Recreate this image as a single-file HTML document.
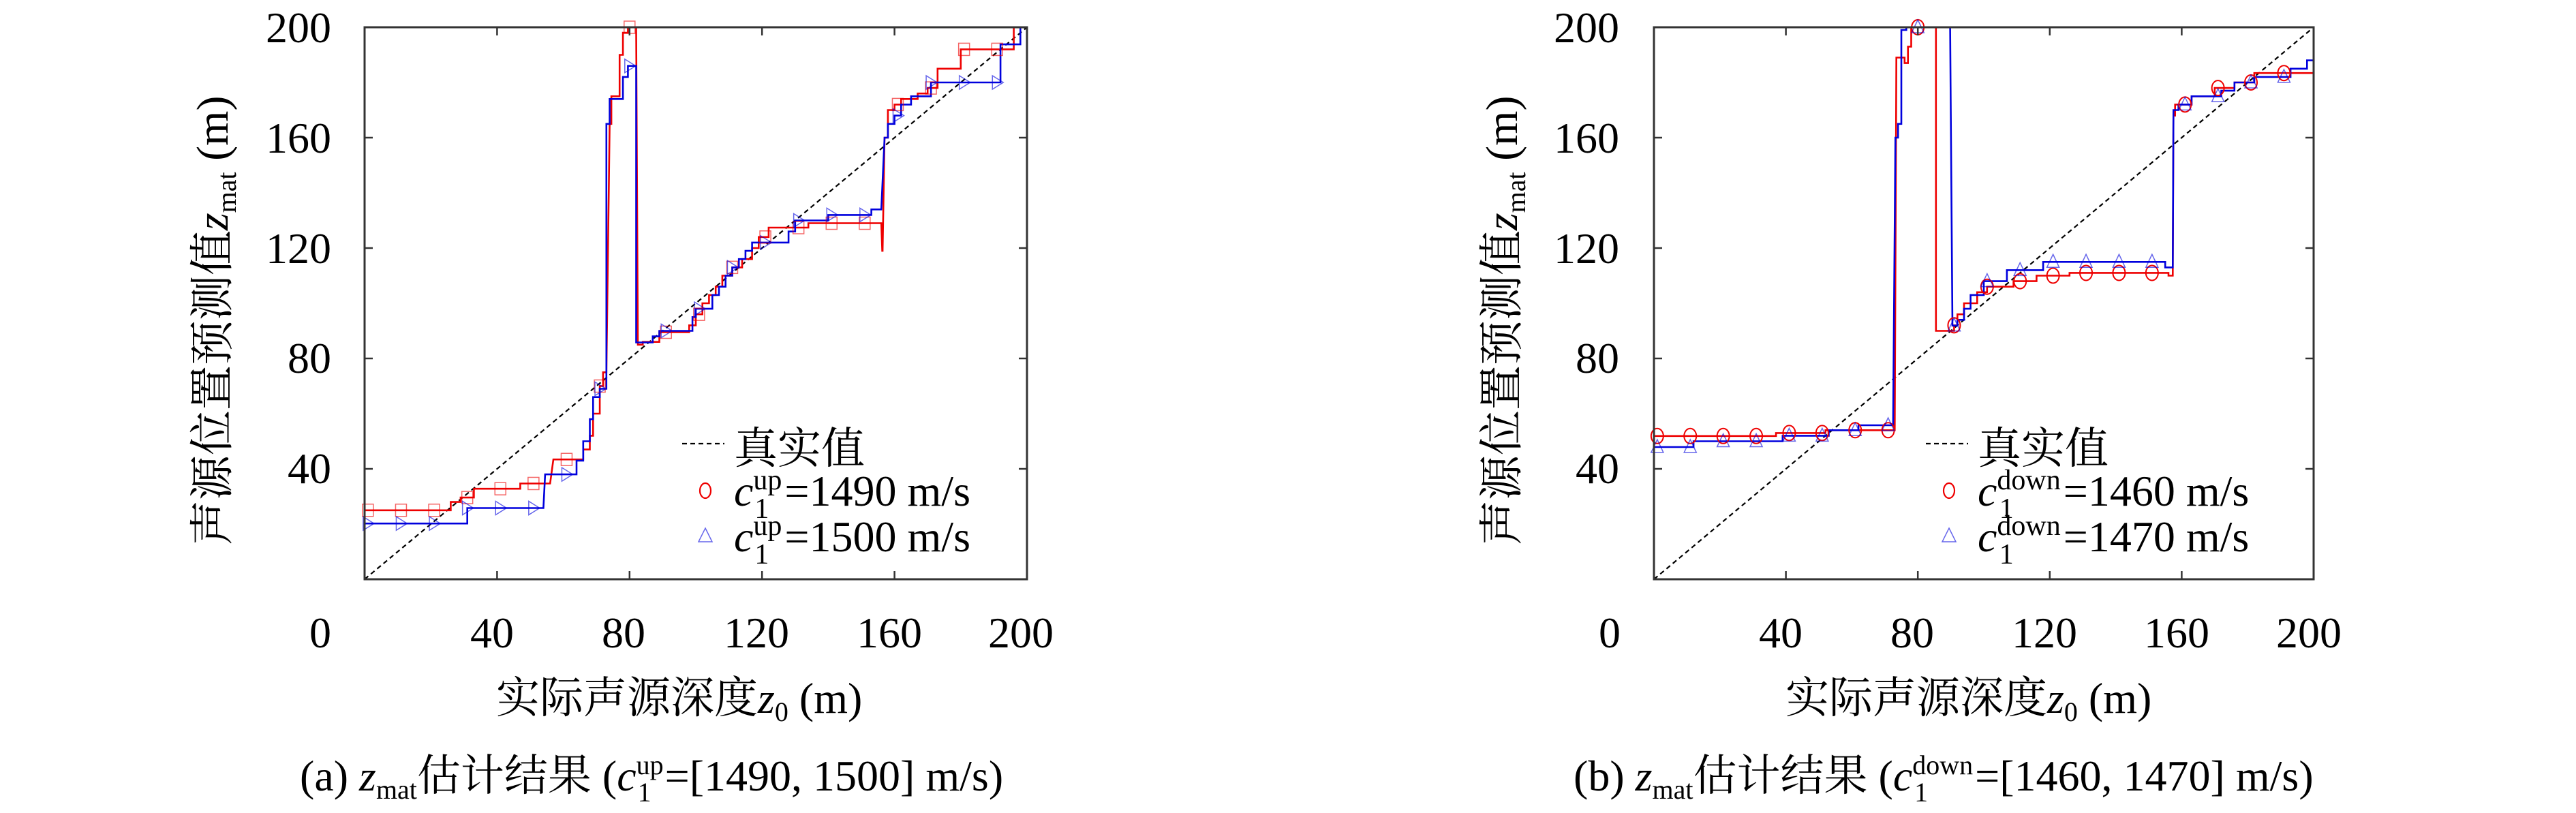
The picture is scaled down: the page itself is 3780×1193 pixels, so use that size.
<!DOCTYPE html>
<html><head><meta charset="utf-8">
<style>
html,body{margin:0;padding:0;background:#fff;}
svg{display:block;}
</style></head>
<body>
<svg id="s" width="3780" height="1193" viewBox="0 0 3780 1193" xmlns="http://www.w3.org/2000/svg" font-family="'Liberation Serif','Noto Serif CJK SC',serif">
<g id="A"></g>
<g id="B"></g>
<!-- Plot A texts -->
<g font-size="64" font-family="'Liberation Serif','Noto Serif CJK SC',serif" fill="#000">
<text x="486" y="62" text-anchor="end">200</text>
<text x="486" y="224" text-anchor="end">160</text>
<text x="486" y="386" text-anchor="end">120</text>
<text x="486" y="547" text-anchor="end">80</text>
<text x="486" y="709" text-anchor="end">40</text>
<text x="470" y="950" text-anchor="middle">0</text>
<text x="722" y="950" text-anchor="middle">40</text>
<text x="915" y="950" text-anchor="middle">80</text>
<text x="1110" y="950" text-anchor="middle">120</text>
<text x="1305" y="950" text-anchor="middle">160</text>
<text x="1498" y="950" text-anchor="middle">200</text>
<text x="728" y="1046">实际声源深度<tspan font-style="italic">z</tspan><tspan font-size="40" dy="12">0</tspan><tspan dy="-12"> (m)</tspan></text>
<text transform="translate(334,800) rotate(-90)" font-size="66">声源位置预测值<tspan font-style="italic">z</tspan><tspan font-size="40" dy="12">mat</tspan><tspan dy="-12">  (m)</tspan></text>
<text x="440" y="1160">(a) <tspan font-style="italic">z</tspan><tspan font-size="40" dy="12">mat</tspan><tspan dy="-12">估计结果 (</tspan><tspan font-style="italic">c</tspan><tspan font-size="40" dy="-24">up</tspan><tspan font-size="40" dx="-38" dy="40">1</tspan><tspan dx="20" dy="-16">=[1490, 1500] m/s)</tspan></text>
<text x="1077" y="680">真实值</text>
<text x="1077" y="742"><tspan font-style="italic">c</tspan><tspan font-size="42" dy="-24">up</tspan><tspan font-size="42" dx="-40" dy="42">1</tspan><tspan dx="23" dy="-18">=1490 m/s</tspan></text>
<text x="1077" y="809"><tspan font-style="italic">c</tspan><tspan font-size="42" dy="-24">up</tspan><tspan font-size="42" dx="-40" dy="42">1</tspan><tspan dx="23" dy="-18">=1500 m/s</tspan></text>
</g>
<!-- Plot B texts -->
<g font-size="64" font-family="'Liberation Serif','Noto Serif CJK SC',serif" fill="#000">
<text x="2376" y="62" text-anchor="end">200</text>
<text x="2376" y="224" text-anchor="end">160</text>
<text x="2376" y="386" text-anchor="end">120</text>
<text x="2376" y="547" text-anchor="end">80</text>
<text x="2376" y="709" text-anchor="end">40</text>
<text x="2362" y="950" text-anchor="middle">0</text>
<text x="2613" y="950" text-anchor="middle">40</text>
<text x="2806" y="950" text-anchor="middle">80</text>
<text x="3000" y="950" text-anchor="middle">120</text>
<text x="3194" y="950" text-anchor="middle">160</text>
<text x="3388" y="950" text-anchor="middle">200</text>
<text x="2620" y="1046">实际声源深度<tspan font-style="italic">z</tspan><tspan font-size="40" dy="12">0</tspan><tspan dy="-12"> (m)</tspan></text>
<text transform="translate(2226,800) rotate(-90)" font-size="66">声源位置预测值<tspan font-style="italic">z</tspan><tspan font-size="40" dy="12">mat</tspan><tspan dy="-12">  (m)</tspan></text>
<text x="2309" y="1160">(b) <tspan font-style="italic">z</tspan><tspan font-size="40" dy="12">mat</tspan><tspan dy="-12">估计结果 (</tspan><tspan font-style="italic">c</tspan><tspan font-size="40" dy="-24">down</tspan><tspan font-size="40" dx="-86" dy="40">1</tspan><tspan dx="69" dy="-16">=[1460, 1470] m/s)</tspan></text>
<text x="2902" y="680">真实值</text>
<text x="2902" y="742"><tspan font-style="italic">c</tspan><tspan font-size="42" dy="-24">down</tspan><tspan font-size="42" dx="-90" dy="42">1</tspan><tspan dx="73" dy="-18">=1460 m/s</tspan></text>
<text x="2902" y="809"><tspan font-style="italic">c</tspan><tspan font-size="42" dy="-24">down</tspan><tspan font-size="42" dx="-90" dy="42">1</tspan><tspan dx="73" dy="-18">=1470 m/s</tspan></text>
</g>
</svg>
<script>
const NS="http://www.w3.org/2000/svg";
function el(p,t,a){const e=document.createElementNS(NS,t);for(const k in a)e.setAttribute(k,a[k]);p.appendChild(e);return e;}
function plot(g,x0,x1,y0,y1,red,blue,rm,bm,legX,redShape,blueShape){
  const X=v=>x0+(x1-x0)*v/200, Y=v=>y1-(y1-y0)*v/200;
  el(g,"line",{x1:X(0),y1:Y(0),x2:X(200),y2:Y(200),stroke:"#000","stroke-width":2.2,"stroke-dasharray":"7,5"});
  const path=(d,c)=>{let s="";d.forEach((p,i)=>{const x=X(Math.min(p[0],200)),y=Y(Math.min(Math.max(p[1],0),200));s+=(i?"L":"M")+x.toFixed(1)+","+y.toFixed(1);});el(g,"path",{d:s,fill:"none",stroke:c,"stroke-width":2.6});};
  path(red,"#e00");path(blue,"#00d");
  const mk=(shape,x,y,c)=>{
    if(shape==="sq")el(g,"rect",{x:x-8,y:y-9,width:16,height:18,fill:"none",stroke:c,"stroke-width":1.5,opacity:.6});
    else if(shape==="ci")el(g,"ellipse",{cx:x,cy:y,rx:9,ry:11,fill:"none",stroke:c,"stroke-width":2});
    else if(shape==="rt")el(g,"path",{d:`M${x-7},${y-10}L${x+9},${y}L${x-7},${y+10}Z`,fill:"none",stroke:c,"stroke-width":1.5,opacity:.6});
    else el(g,"path",{d:`M${x},${y-11}L${x+9},${y+8}L${x-9},${y+8}Z`,fill:"none",stroke:c,"stroke-width":1.5,opacity:.6});
  };
  rm.forEach(p=>mk(redShape,X(p[0]),Y(p[1]),"#e00"));
  bm.forEach(p=>mk(blueShape,X(p[0]),Y(p[1]),"#00d"));
  el(g,"rect",{x:x0,y:y0,width:x1-x0,height:y1-y0,fill:"none",stroke:"#333","stroke-width":3});
  [40,80,120,160].forEach(v=>{
    el(g,"line",{x1:X(v),y1:y1,x2:X(v),y2:y1-12,stroke:"#333","stroke-width":2.5});
    el(g,"line",{x1:X(v),y1:y0,x2:X(v),y2:y0+12,stroke:"#333","stroke-width":2.5});
    el(g,"line",{x1:x0,y1:Y(v),x2:x0+12,y2:Y(v),stroke:"#333","stroke-width":2.5});
    el(g,"line",{x1:x1,y1:Y(v),x2:x1-12,y2:Y(v),stroke:"#333","stroke-width":2.5});
  });
  el(g,"line",{x1:legX,y1:651,x2:legX+62,y2:651,stroke:"#000","stroke-width":2.2,"stroke-dasharray":"7,5"});
  el(g,"ellipse",{cx:legX+34,cy:720,rx:8,ry:11,fill:"none",stroke:"#e00","stroke-width":2.2});
  el(g,"path",{d:`M${legX+34},${775}L${legX+44},${795}L${legX+24},${795}Z`,fill:"none",stroke:"#00d","stroke-width":1.5,opacity:.6});
}
function S(a){let o=[];for(let i=0;i<a.length;i+=3){o.push([a[i],a[i+2]]);o.push([a[i+1],a[i+2]]);}return o;}
const redA=S([0,26,25, 26,29,28, 29,33,29.6, 33,47,32.8, 47,56,34.7, 57,66,43.4, 66,68,47, 68,69,52, 69,71,60, 71,72,70, 72,73,75, 74,74.5,165, 74.5,77,175, 77,78,190, 78,79.5,198, 79.5,82,200, 82.5,84,85, 84,89,86, 89,98,89.5, 98,100,92, 100,102,96, 102,104,100, 104,106,103, 106,108,106, 108,111,110, 111,114,113, 114,117,116, 117,119,120, 119,122,124, 122,134,127.4, 134,156,129, 156.3,156.4,119, 157,158,160, 158,160,170, 160,162,172, 162,167,174, 167,170,176, 170,173,178, 173,180,185, 180,196,192, 196,200,200]);
const blueA=S([0,31,20.2, 31,54,25.8, 54.5,64,38, 64,66,43, 66,68,50, 68,69,58, 69,71,66, 71,73,69, 73,74,165, 74,78,174, 78,79.5,182, 79.5,82,186, 82,87,85.8, 87,89,88, 89,99,90, 99,100,95, 100,105,98, 105,107,103, 107,109,106, 109,111,110, 111,113,113, 113,115,116, 115,117,119, 117,128,122, 128,130,126, 130,140,130, 140,153,132, 153,156,134, 157,158,160, 158,160,165, 160,162,168, 162,165,172, 165,171,175, 171,192,180, 192,198,193.8, 198,200,200]);
const mx=[1,11,21,31,41,51,61,71,80,91,101,111,121,131,141,151,161,171,181,191];
const f=(d,x)=>{let y=d[0][1];for(const p of d){if(p[0]<=x)y=p[1];}return y;};
plot(document.getElementById("A"),535,1507,40,850,redA,blueA,mx.map(x=>[x,f(redA,x)]),mx.map(x=>[x,f(blueA,x)]),1001,"sq","rt");
const redB=S([0,37,51.9, 37,52,53, 52,73,54, 73.5,76,189, 76,77,187, 77,78,193, 78,85.5,200, 85.5,91,90, 91,92,92, 92,94,96, 94,98,100, 98,101,104, 101,109,106, 109,116,108, 116,126,110, 126,156,111, 156,157.3,110, 157.5,158,168, 158,163,172, 163,170,175, 170,176,178, 176,182,180, 182,200,183.4]);
const blueB=S([0,12,47.9, 12,39,50, 39,53,52, 53,62,54, 62,72.5,55.8, 73.2,74,160, 74,75,165, 75,76.5,199, 76.5,89.8,200, 90.5,92,91.9, 92,94,94, 94,96,98, 96,100,103, 100,107,108, 107,118,112, 118,155,115, 155,157.3,113, 157.5,159,170, 159,163,172, 163,172,175, 172,176,177, 176,182,180, 182,193,182, 193,198,185, 198,200,188]);
plot(document.getElementById("B"),2427,3395,40,850,redB,blueB,mx.map(x=>[x,f(redB,x)]),mx.map(x=>[x,f(blueB,x)]),2826,"ci","tr");
</script>
</body></html>
